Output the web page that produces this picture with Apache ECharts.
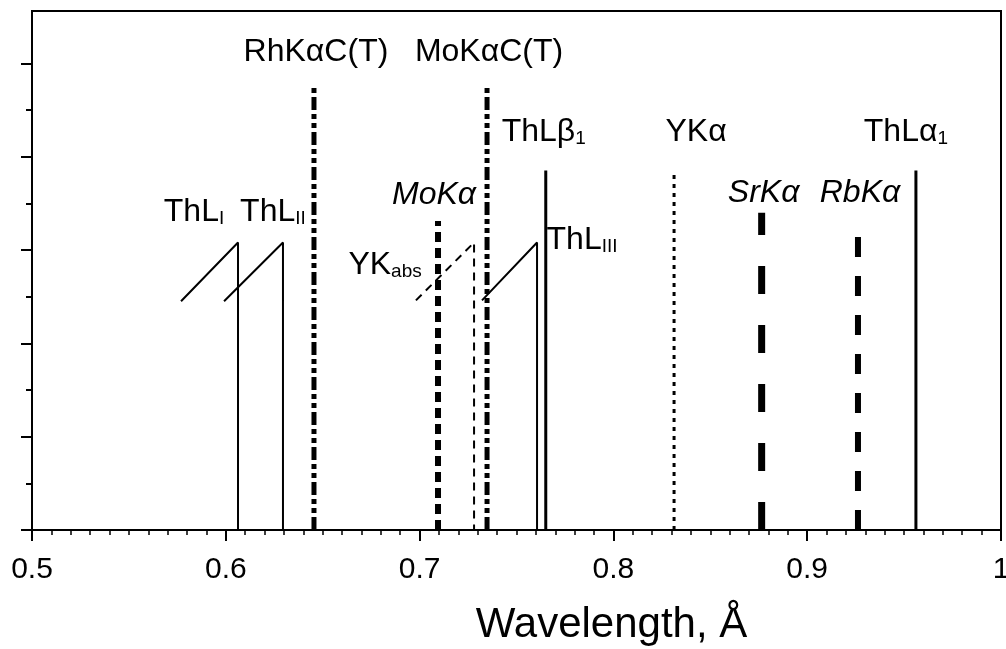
<!DOCTYPE html>
<html>
<head>
<meta charset="utf-8">
<script src="https://cdn.jsdelivr.net/npm/echarts@6/dist/echarts.min.js"></script>
<style>
  html, body { margin: 0; padding: 0; background: #fff; }
  #chart { width: 1006px; height: 649px; }
</style>
</head>
<body>
<div id="chart"></div>
<script>
  // x-ray lines: wavelength (Å) and drawn height (arb. units)
  const lineNames = ['RhKαC(T)', 'MoKαC(T)', 'ThLβ1', 'YKα', 'ThLα1', 'MoKα', 'SrKα', 'RbKα'];
  const lineWavelengths = [0.6455, 0.7348, 0.7651, 0.8313, 0.9561, 0.7095, 0.8765, 0.9262];
  const lineHeights = [4.74, 4.74, 3.85, 3.85, 3.85, 3.31, 3.40, 3.20];

  // absorption edges: sawtooth from start to edge, then down to zero
  const edgeNames = ['ThLI', 'ThLII', 'YKabs', 'ThLIII'];
  const edgeStarts = [0.5769, 0.5991, 0.6981, 0.7322];
  const edgeWavelengths = [0.6063, 0.6295, 0.7281, 0.7606];
  const edgeLows = [2.45, 2.45, 2.46, 2.46];
  const edgeHighs = [3.08, 3.08, 3.08, 3.08];

  const xTicks = [0.5, 0.6, 0.7, 0.8, 0.9, 1];
  const yMajorTicks = [0, 1, 2, 3, 4, 5];
  const yMinorTicks = [0.5, 1.5, 2.5, 3.5, 4.5];

  const FONT = '"Liberation Sans", Arial, Helvetica, sans-serif';

  // how each mark is drawn and where its label sits (px from the top point)
  const lineStyles = {
    'RhKαC(T)': { width: 5, type: [13, 4, 5, 4, 5, 4], text: '{m|RhKαC(T)}', offset: [2, -35] },
    'MoKαC(T)': { width: 5, type: [13, 4, 5, 4, 5, 4], text: '{m|MoKαC(T)}', offset: [2, -35] },
    'ThLβ1': { width: 3, type: 'solid', text: '{m|ThLβ}{s|1}', offset: [-2, -38] },
    'YKα': { width: 3, type: [4, 5], text: '{m|YKα}', offset: [22, -38] },
    'ThLα1': { width: 3, type: 'solid', text: '{m|ThLα}{s|1}', offset: [-10, -38] },
    'MoKα': { width: 6, type: [10, 6], text: '{i|MoKα}', offset: [-4, -26] },
    'SrKα': { width: 7, type: [28, 31], text: '{i|SrKα}', offset: [2, -20] },
    'RbKα': { width: 6, type: [20, 19], text: '{i|RbKα}', offset: [2, -38] },
  };
  const edgeStyles = {
    ThLI: { width: 2, type: 'solid', text: '{m|ThL}{s|I}', offset: [-44, -30] },
    ThLII: { width: 2, type: 'solid', text: '{m|ThL}{s|II}', offset: [-10, -30] },
    YKabs: { width: 2, type: [8, 6], text: '{m|YK}{s|abs}', offset: [-89, 23] },
    ThLIII: { width: 2, type: 'solid', text: '{m|ThL}{s|III}', offset: [45, -2] },
  };

  const series = [];
  const labelData = [];

  lineNames.forEach(function (name, i) {
    const st = lineStyles[name];
    series.push({
      type: 'line',
      name: name,
      data: [[lineWavelengths[i], 0], [lineWavelengths[i], lineHeights[i]]],
      showSymbol: false,
      symbol: 'none',
      lineStyle: { color: '#000', width: st.width, type: st.type },
    });
    labelData.push({
      value: [lineWavelengths[i], lineHeights[i]],
      label: { formatter: st.text, offset: st.offset },
    });
  });

  edgeNames.forEach(function (name, i) {
    const st = edgeStyles[name];
    series.push({
      type: 'line',
      name: name,
      data: [
        [edgeStarts[i], edgeLows[i]],
        [edgeWavelengths[i], edgeHighs[i]],
        [edgeWavelengths[i], 0],
      ],
      showSymbol: false,
      symbol: 'none',
      lineStyle: { color: '#000', width: st.width, type: st.type },
    });
    labelData.push({
      value: [edgeWavelengths[i], edgeHighs[i]],
      label: { formatter: st.text, offset: st.offset },
    });
  });

  series.push({
    type: 'scatter',
    name: 'labels',
    symbolSize: 0,
    silent: true,
    itemStyle: { opacity: 1 },
    data: labelData,
    label: {
      show: true,
      position: 'inside',
      color: '#000',
      fontFamily: FONT,
      fontSize: 32,
      rich: {
        m: { fontSize: 32, lineHeight: 32, fontFamily: FONT, color: '#000' },
        i: { fontSize: 32, lineHeight: 32, fontFamily: FONT, fontStyle: 'italic', color: '#000' },
        s: { fontSize: 19, lineHeight: 8, verticalAlign: 'bottom', fontFamily: FONT, color: '#000' },
      },
    },
  });

  const chart = echarts.init(document.getElementById('chart'), null, { renderer: 'canvas' });
  chart.setOption({
    animation: false,
    backgroundColor: '#fff',
    grid: {
      left: 32,
      right: 5,
      top: 11,
      bottom: 119,
      outerBoundsMode: 'none',
      show: true,
      borderColor: '#000',
      borderWidth: 2,
      backgroundColor: 'transparent',
    },
    xAxis: {
      type: 'value',
      min: xTicks[0],
      max: xTicks[xTicks.length - 1],
      interval: 0.1,
      name: 'Wavelength, Å',
      nameLocation: 'middle',
      nameGap: 74,
      nameTextStyle: { fontFamily: FONT, fontSize: 42, color: '#000', padding: [0, 0, 0, 190] },
      axisLine: { show: true, lineStyle: { color: '#000', width: 2 } },
      axisTick: { show: true, inside: false, length: 11, lineStyle: { color: '#000', width: 2 } },
      minorTick: { show: true, splitNumber: 10, length: 5, lineStyle: { color: '#000', width: 1.5 } },
      axisLabel: { fontFamily: FONT, fontSize: 30, color: '#000', margin: 25 },
      splitLine: { show: false },
    },
    yAxis: [
      {
        type: 'value',
        min: 0,
        max: 5.56,
        position: 'left',
        axisLine: { show: true, lineStyle: { color: '#000', width: 2 } },
        axisTick: { show: true, inside: false, length: 11, customValues: yMajorTicks, lineStyle: { color: '#000', width: 2 } },
        axisLabel: { show: false },
        splitLine: { show: false },
      },
      {
        type: 'value',
        min: 0,
        max: 5.56,
        position: 'left',
        axisLine: { show: false },
        axisTick: { show: true, inside: false, length: 6, customValues: yMinorTicks, lineStyle: { color: '#000', width: 2 } },
        axisLabel: { show: false },
        splitLine: { show: false },
      },
    ],
    series: series,
  });
</script>
</body>
</html>
